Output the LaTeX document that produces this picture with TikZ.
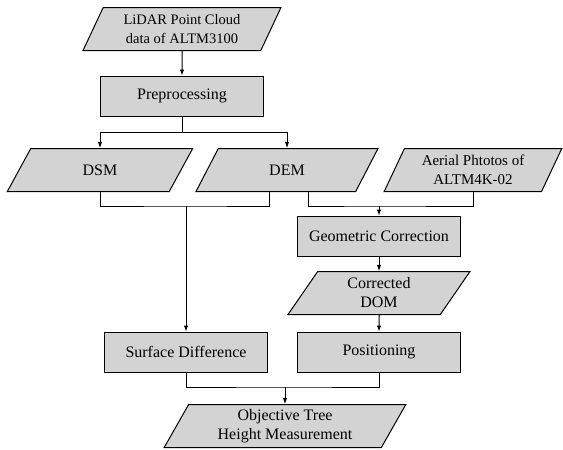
\documentclass[tikz,border=0pt]{standalone}
\usepackage{fontspec}
\setmainfont{Liberation Serif}
\usetikzlibrary{shapes.geometric,arrows.meta}
\definecolor{boxgray}{RGB}{211,211,211}

\begin{document}
\begin{tikzpicture}[x=1pt,y=-1pt,
    data/.style={trapezium, trapezium left angle=64, trapezium right angle=116,
      trapezium stretches=true, draw, fill=boxgray, line width=1pt,
      minimum height=43pt, inner sep=1pt, align=center,
      font=\fontsize{16}{19}\selectfont},
    proc/.style={rectangle, draw, fill=boxgray, line width=1pt,
      minimum width=163pt, minimum height=40pt, align=center,
      font=\fontsize{16}{19}\selectfont},
    link/.style={line width=1pt, -},
    arr/.style={line width=1pt, -{Latex[length=6pt,width=4.5pt]}}]
      \useasboundingbox (0,0) rectangle (563,450);
      % inputs and steps
      \node[data, minimum width=198pt, font=\fontsize{14.5}{19}\selectfont] (lidar) at (182,29) {LiDAR Point Cloud\\data of ALTM3100};
      \node[proc] (pre) at (182,96) {Preprocessing};
      \node[data, minimum width=186pt] (dsm) at (100,170) {DSM};
      \node[data, minimum width=183pt] (dem) at (287,170) {DEM};
      \node[data, minimum width=178pt, font=\fontsize{15}{19}\selectfont] (aerial) at (473,170) {Aerial Phtotos of\\ALTM4K-02};
      \node[proc] (gc) at (379,236) {Geometric Correction};
      \node[data, minimum width=183pt] (dom) at (379,293) {Corrected\\DOM};
      \node[proc] (sd) at (186,352) {Surface Difference};
      \node[proc] (pos) at (379,352) {Positioning};
      \node[data, minimum width=242pt] (obj) at (285,426) {Objective Tree\\Height Measurement};
      % junctions
      \coordinate (split) at (182,132);
      \coordinate (j1) at (186,206);
      \coordinate (j2) at (379,206);
      \coordinate (j3) at (285,387);
      \begin{scope}[arr]
        \draw (lidar) -- (pre);
        \draw[link] (pre) -- (split);
        \draw (split) -| (dsm);
        \draw (split) -| (dem);
        \draw[link] (dsm.south) |- (j1) -| ([xshift=-18pt]dem.south);
        \draw (j1) -- (sd);
        \draw[link] ([xshift=21pt]dem.south) |- (j2) -| (aerial.south);
        \draw (j2) -- (gc);
        \draw (gc) -- (dom);
        \draw (dom) -- (pos);
        \draw[link] (sd.south) |- (j3) -| (pos.south);
        \draw (j3) -- (obj);
      \end{scope}
    \end{tikzpicture}
\end{document}
